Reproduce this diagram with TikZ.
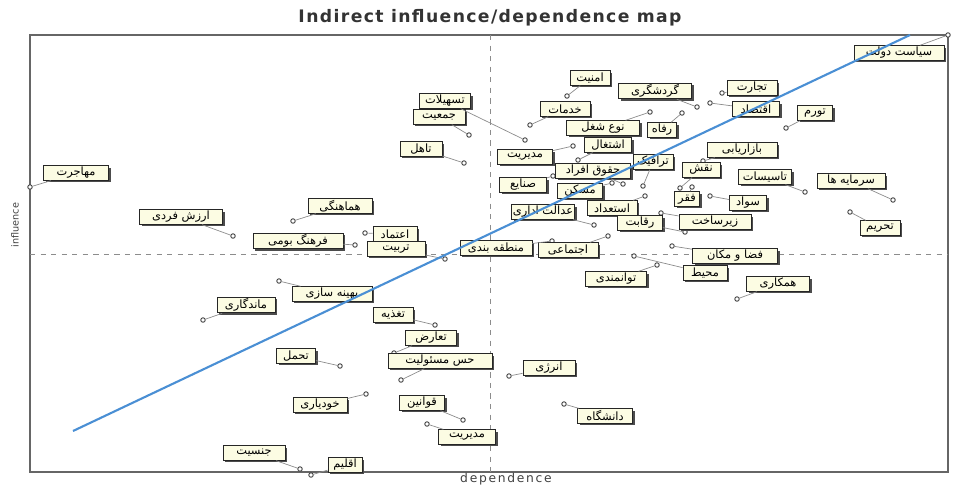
\documentclass[tikz,border=0pt]{standalone}
\usepackage{fontspec}
\setsansfont{DejaVu Sans}
\newfontfamily\fafont[Script=Arabic]{DejaVu Sans}
\TeXXeTstate=1
\usetikzlibrary{shadows}
\definecolor{lblfill}{HTML}{FCFCE3}
\definecolor{trendblue}{HTML}{4A8FD4}

\begin{document}
\begin{tikzpicture}[
  x=0.02cm, y=-0.02cm,
  lbl/.style={draw=black!85, fill=lblfill, line width=0.5pt, minimum height=2.9mm, inner sep=0.8pt,
    font=\fafont\fontsize{6.5}{7}\selectfont, execute at begin node=\beginR, execute at end node=\endR,
    drop shadow={shadow xshift=1.2pt, shadow yshift=-1.2pt, fill=black!70, opacity=1}},
  pt/.style={circle, draw=black!75, fill=white, line width=0.5pt, inner sep=0pt, minimum size=0.9mm},
  lnk/.style={draw=black!45, line width=0.4pt},
  frame/.style={draw=black!60, line width=0.8pt},
  axis/.style={draw=black!45, dashed, line width=0.4pt},
  trend/.style={draw=trendblue, line width=1.2pt}
]
\useasboundingbox (0,0) rectangle (955,484);

% frame and axes
\coordinate (nw) at (30,35);
\coordinate (se) at (948,472);
\coordinate (vt) at (490,35);
\coordinate (vb) at (490,472);
\coordinate (hl) at (30,254);
\coordinate (hr) at (948,254);
\draw[frame] (nw) rectangle (se);
\draw[axis] (vt) -- (vb);
\draw[axis] (hl) -- (hr);

\node[text=black!80, font=\sffamily\bfseries\fontsize{9.8}{11}\selectfont\addfontfeature{LetterSpace=8}] (title) at (490,18) {Indirect influence/dependence map};
\node[rotate=90, text=black!75, font=\sffamily\fontsize{5.5}{6}\selectfont] (ylab) at (15,225) {influence};
\node[text=black!75, font=\sffamily\fontsize{7}{8}\selectfont\addfontfeature{LetterSpace=14}] (xlab) at (506,479) {dependence};

% points
\node[pt] (p1) at (30,187) {};
\node[pt] (p2) at (525,140) {};
\node[pt] (p3) at (469,135) {};
\node[pt] (p4) at (464,163) {};
\node[pt] (p5) at (293,221) {};
\node[pt] (p6) at (233,236) {};
\node[pt] (p7) at (365,233) {};
\node[pt] (p8) at (355,245) {};
\node[pt] (p9) at (445,259) {};
\node[pt] (p10) at (552,241) {};
\node[pt] (p11) at (608,236) {};
\node[pt] (p12) at (594,225) {};
\node[pt] (p13) at (645,196) {};
\node[pt] (p14) at (685,232) {};
\node[pt] (p15) at (661,213) {};
\node[pt] (p16) at (672,246) {};
\node[pt] (p17) at (634,256) {};
\node[pt] (p18) at (657,265) {};
\node[pt] (p19) at (737,299) {};
\node[pt] (p20) at (279,281) {};
\node[pt] (p21) at (203,320) {};
\node[pt] (p22) at (435,325) {};
\node[pt] (p23) at (394,353) {};
\node[pt] (p24) at (401,380) {};
\node[pt] (p25) at (340,366) {};
\node[pt] (p26) at (366,394) {};
\node[pt] (p27) at (463,420) {};
\node[pt] (p28) at (427,424) {};
\node[pt] (p29) at (300,469) {};
\node[pt] (p30) at (311,475) {};
\node[pt] (p31) at (509,376) {};
\node[pt] (p32) at (564,404) {};
\node[pt] (p33) at (948,35) {};
\node[pt] (p34) at (567,96) {};
\node[pt] (p35) at (697,107) {};
\node[pt] (p36) at (722,93) {};
\node[pt] (p37) at (710,103) {};
\node[pt] (p38) at (530,125) {};
\node[pt] (p39) at (650,112) {};
\node[pt] (p40) at (682,113) {};
\node[pt] (p41) at (786,128) {};
\node[pt] (p42) at (578,160) {};
\node[pt] (p43) at (573,146) {};
\node[pt] (p44) at (703,161) {};
\node[pt] (p45) at (643,186) {};
\node[pt] (p46) at (623,184) {};
\node[pt] (p47) at (680,188) {};
\node[pt] (p48) at (805,192) {};
\node[pt] (p49) at (893,200) {};
\node[pt] (p50) at (553,176) {};
\node[pt] (p51) at (612,183) {};
\node[pt] (p52) at (692,187) {};
\node[pt] (p53) at (710,196) {};
\node[pt] (p54) at (850,212) {};

% labels
\node[lbl, minimum width=13mm] (l1) at (76,173) {مهاجرت};
\node[lbl, minimum width=10.2mm] (l2) at (445,101) {تسهیلات};
\node[lbl, minimum width=10.4mm] (l3) at (439,117) {جمعیت};
\node[lbl, minimum width=8.4mm] (l4) at (421,149) {تاهل};
\node[lbl, minimum width=12.8mm] (l5) at (340,206) {هماهنگی};
\node[lbl, minimum width=16.6mm] (l6) at (181,217) {ارزش فردی};
\node[lbl, minimum width=8.8mm] (l7) at (395,234) {اعتماد};
\node[lbl, minimum width=18mm] (l8) at (298,241) {فرهنگ بومی};
\node[lbl, minimum width=11.6mm] (l9) at (396,249) {تربیت};
\node[lbl, minimum width=14.4mm] (l10) at (496,248) {منطقه بندی};
\node[lbl, minimum width=12mm] (l11) at (568,250) {اجتماعی};
\node[lbl, minimum width=12.2mm] (l12) at (543,212) {عدالت اداری};
\node[lbl, minimum width=10mm] (l13) at (612,208) {استعداد};
\node[lbl, minimum width=9mm] (l14) at (640,223) {رقابت};
\node[lbl, minimum width=14.4mm] (l15) at (715,222) {زیرساخت};
\node[lbl, minimum width=17mm] (l16) at (735,256) {فضا و مکان};
\node[lbl, minimum width=8.8mm] (l17) at (705,273) {محیط};
\node[lbl, minimum width=12.2mm] (l18) at (616,279) {توانمندی};
\node[lbl, minimum width=12.6mm] (l19) at (778,284) {همکاری};
\node[lbl, minimum width=16mm] (l20) at (332,294) {بهینه سازی};
\node[lbl, minimum width=11.6mm] (l21) at (246,305) {ماندگاری};
\node[lbl, minimum width=8mm] (l22) at (393,315) {تغذیه};
\node[lbl, minimum width=10.2mm] (l23) at (431,338) {تعارض};
\node[lbl, minimum width=20.8mm] (l24) at (440,361) {حس مسئولیت};
\node[lbl, minimum width=7.8mm] (l25) at (296,356) {تحمل};
\node[lbl, minimum width=10.8mm] (l26) at (320,405) {خودیاری};
\node[lbl, minimum width=9mm] (l27) at (422,403) {قوانین};
\node[lbl, minimum width=11.4mm] (l28) at (467,437) {مدیریت};
\node[lbl, minimum width=12.4mm] (l29) at (254,453) {جنسیت};
\node[lbl, minimum width=6.8mm] (l30) at (345,465) {اقلیم};
\node[lbl, minimum width=10.4mm] (l31) at (549,368) {انرژی};
\node[lbl, minimum width=11mm] (l32) at (605,416) {دانشگاه};
\node[lbl, minimum width=18mm] (l33) at (899,53) {سیاست دولت};
\node[lbl, minimum width=8mm] (l34) at (590,78) {امنیت};
\node[lbl, minimum width=14.6mm] (l35) at (655,91) {گردشگری};
\node[lbl, minimum width=10mm] (l36) at (752,88) {تجارت};
\node[lbl, minimum width=9.4mm] (l37) at (756,109) {اقتصاد};
\node[lbl, minimum width=10mm] (l38) at (565,109) {خدمات};
\node[lbl, minimum width=14.6mm] (l39) at (603,128) {نوع شغل};
\node[lbl, minimum width=5.8mm] (l40) at (662,130) {رفاه};
\node[lbl, minimum width=7mm] (l41) at (815,113) {تورم};
\node[lbl, minimum width=9.4mm] (l42) at (608,145) {اشتغال};
\node[lbl, minimum width=11mm] (l43) at (525,157) {مدیریت};
\node[lbl, minimum width=14mm] (l44) at (742,150) {بازاریابی};
\node[lbl, minimum width=8mm] (l45) at (653,162) {ترافیک};
\node[lbl, minimum width=15mm] (l46) at (593,171) {حقوق افراد};
\node[lbl, minimum width=7.6mm] (l47) at (701,170) {نقش};
\node[lbl, minimum width=10.6mm] (l48) at (765,177) {تاسیسات};
\node[lbl, minimum width=13.6mm] (l49) at (851,181) {سرمایه ها};
\node[lbl, minimum width=9.4mm] (l50) at (523,185) {صنایع};
\node[lbl, minimum width=9mm] (l51) at (580,191) {مسکن};
\node[lbl, minimum width=5mm] (l52) at (687,199) {فقر};
\node[lbl, minimum width=7.4mm] (l53) at (748,203) {سواد};
\node[lbl, minimum width=8mm] (l54) at (880,228) {تحریم};

% connectors
\foreach \i in {1,...,54}
  \draw[lnk] (p\i) -- (l\i);

% trend line
\coordinate (t0) at (73,431);
\coordinate (t1) at (910,35);
\draw[trend] (t0) -- (t1);
\end{tikzpicture}
\end{document}
